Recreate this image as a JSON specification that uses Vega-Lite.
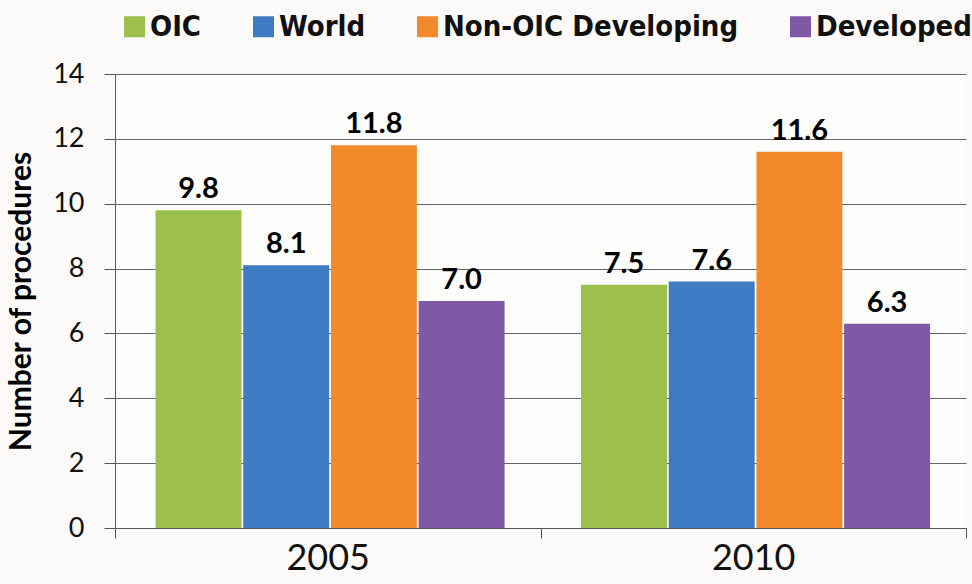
{
  "$schema": "https://vega.github.io/schema/vega-lite/v6.json",
  "width": 851,
  "height": 454,
  "autosize": {"type": "none"},
  "padding": {"left": 115, "top": 74, "right": 6, "bottom": 56},
  "background": "#fbfaf9",
  "data": {
    "values": [
      {"year": "2005", "group": "OIC", "procedures": 9.8},
      {"year": "2005", "group": "World", "procedures": 8.1},
      {"year": "2005", "group": "Non-OIC Developing", "procedures": 11.8},
      {"year": "2005", "group": "Developed", "procedures": 7.0},
      {"year": "2010", "group": "OIC", "procedures": 7.5},
      {"year": "2010", "group": "World", "procedures": 7.6},
      {"year": "2010", "group": "Non-OIC Developing", "procedures": 11.6},
      {"year": "2010", "group": "Developed", "procedures": 6.3}
    ]
  },
  "encoding": {
    "x": {
      "field": "year",
      "type": "nominal",
      "scale": {"paddingInner": 0, "paddingOuter": 0},
      "axis": {
        "title": null,
        "labelAngle": 0,
        "labelFont": "Lato",
        "labelFontSize": 36,
        "labelColor": "#111",
        "labelPadding": 3,
        "tickBand": "extent",
        "tickSize": 10,
        "tickColor": "#555",
        "domainColor": "#555",
        "grid": false
      }
    },
    "xOffset": {
      "field": "group",
      "type": "nominal",
      "sort": ["OIC", "World", "Non-OIC Developing", "Developed"],
      "scale": {"paddingInner": 0.02, "paddingOuter": 0.436, "align": 0.53}
    },
    "y": {
      "field": "procedures",
      "type": "quantitative",
      "scale": {"domain": [0, 14]},
      "axis": {
        "title": "Number of procedures",
        "titleFont": "Lato",
        "titleFontSize": 30,
        "titleFontWeight": "bold",
        "titleColor": "#000",
        "titlePadding": 16,
        "values": [0, 2, 4, 6, 8, 10, 12, 14],
        "labelFont": "Lato",
        "labelFontSize": 27,
        "labelColor": "#111",
        "labelPadding": 20,
        "tickSize": 11,
        "tickColor": "#555",
        "domainColor": "#5a5a4a",
        "gridColor": "#666",
        "gridWidth": 1
      }
    }
  },
  "layer": [
    {
      "mark": {"type": "bar"},
      "encoding": {
        "color": {
          "field": "group",
          "type": "nominal",
          "sort": ["OIC", "World", "Non-OIC Developing", "Developed"],
          "scale": {
            "domain": ["OIC", "World", "Non-OIC Developing", "Developed"],
            "range": ["#9bc04b", "#3e7bc2", "#f28a2c", "#7e59a5"]
          },
          "legend": {
            "title": null,
            "orient": "none",
            "direction": "horizontal",
            "legendX": 5,
            "legendY": -62,
            "symbolType": "square",
            "symbolSize": 441,
            "symbolStrokeWidth": 0,
            "labelFont": "DejaVu Sans Condensed",
            "labelFontSize": 29,
            "labelFontWeight": "bold",
            "labelColor": "#111",
            "labelOffset": 1,
            "columnPadding": 47,
            "labelLimit": 400
          }
        }
      }
    },
    {
      "mark": {
        "type": "text",
        "baseline": "alphabetic",
        "dy": -12,
        "font": "Lato",
        "fontSize": 29,
        "fontWeight": "bold",
        "color": "#000"
      },
      "encoding": {
        "text": {"field": "procedures", "type": "quantitative", "format": ".1f"}
      }
    }
  ],
  "config": {
    "view": {"stroke": null, "fill": "#fdfdfc"}
  }
}
